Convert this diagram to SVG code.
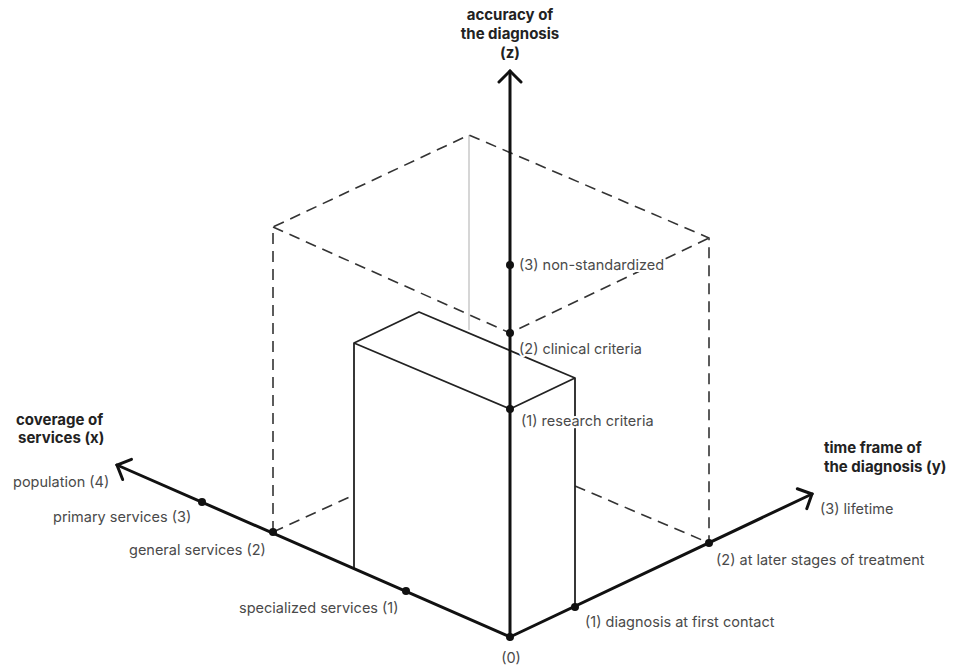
<svg xmlns="http://www.w3.org/2000/svg" width="958" height="665" viewBox="0 0 958 665">
<style>
.lbl{font-family:Inter,Roboto,"Liberation Sans",sans-serif;font-size:14.5px;fill:#4a4a4a;stroke:#fff;stroke-width:4px;paint-order:stroke;stroke-linejoin:round}
.ttl{font-family:Inter,Roboto,"Liberation Sans",sans-serif;font-size:15px;font-weight:bold;fill:#222}
.axis{stroke:#111;stroke-width:3;fill:none;stroke-linecap:round}
.dash{stroke:#333;stroke-width:1.6;fill:none;stroke-dasharray:11 7}
.box{stroke:#222;stroke-width:1.8;fill:none;stroke-linejoin:round}
.dot{fill:#111}
</style>
<defs>
<marker id="arr" markerUnits="userSpaceOnUse" viewBox="-14 -14 28 28" markerWidth="28" markerHeight="28" refX="0" refY="0" orient="auto" overflow="visible">
<path d="M-11,-11 L0,0 L-11,11" fill="none" stroke="#111" stroke-width="3" stroke-linecap="round" stroke-linejoin="miter"/>
</marker>
</defs>
<rect width="958" height="665" fill="#fff"/>
<g id="cube-dashed">
<line x1="469" y1="135" x2="469" y2="330" stroke="#c8c8c8" stroke-width="1.5"/>
<path class="dash" d="M273,532 L273,227 L469,135 L709,238 L709,543"/>
<path class="dash" d="M273,227 L510,333 L709,238"/>
<line class="dash" x1="273" y1="532" x2="354" y2="495"/>
<line class="dash" x1="575" y1="486" x2="709" y2="543"/>
</g>
<g id="box">
<path class="box" d="M354,568 L354,343 L419,312 L575,378 L575,607"/>
<path class="box" d="M354,343 L510,409 L575,378"/>
</g>
<g id="connectors">
<line id="axis-x" class="axis" x1="510" y1="637" x2="117" y2="465" marker-end="url(#arr)"/>
<line id="axis-y" class="axis" x1="510" y1="637" x2="812" y2="494" marker-end="url(#arr)"/>
<line id="axis-z" class="axis" x1="510" y1="637" x2="510" y2="71" marker-end="url(#arr)"/>
</g>
<g id="points">
<circle class="dot" cx="510" cy="637" r="4"/>
<circle class="dot" cx="510" cy="409" r="4"/>
<circle class="dot" cx="510" cy="333" r="4"/>
<circle class="dot" cx="510" cy="265" r="4"/>
<circle class="dot" cx="406" cy="591" r="4"/>
<circle class="dot" cx="273" cy="532" r="4"/>
<circle class="dot" cx="202" cy="502" r="4"/>
<circle class="dot" cx="575" cy="607" r="4"/>
<circle class="dot" cx="709" cy="543" r="4"/>
</g>
<g id="title-z">
<text class="ttl" x="510" y="20" text-anchor="middle">accuracy of</text>
<text class="ttl" x="510" y="39" text-anchor="middle">the diagnosis</text>
<text class="ttl" x="510" y="58" text-anchor="middle">(z)</text>
</g>
<g id="title-x">
<text class="ttl" x="16" y="425">coverage of</text>
<text class="ttl" x="18" y="443">services (x)</text>
</g>
<g id="title-y">
<text class="ttl" x="824" y="453">time frame of</text>
<text class="ttl" x="824" y="472">the diagnosis (y)</text>
</g>
<g id="labels-z">
<text class="lbl" x="519" y="270">(3) non-standardized</text>
<text class="lbl" x="519" y="354">(2) clinical criteria</text>
<text class="lbl" x="521" y="426">(1) research criteria</text>
</g>
<g id="labels-x">
<text class="lbl" x="13" y="487">population (4)</text>
<text class="lbl" x="53" y="522">primary services (3)</text>
<text class="lbl" x="129" y="555">general services (2)</text>
<text class="lbl" x="239" y="613">specialized services (1)</text>
</g>
<g id="labels-y">
<text class="lbl" x="511" y="663" text-anchor="middle">(0)</text>
<text class="lbl" x="585" y="627">(1) diagnosis at first contact</text>
<text class="lbl" x="716" y="565">(2) at later stages of treatment</text>
<text class="lbl" x="820" y="514">(3) lifetime</text>
</g>
</svg>
